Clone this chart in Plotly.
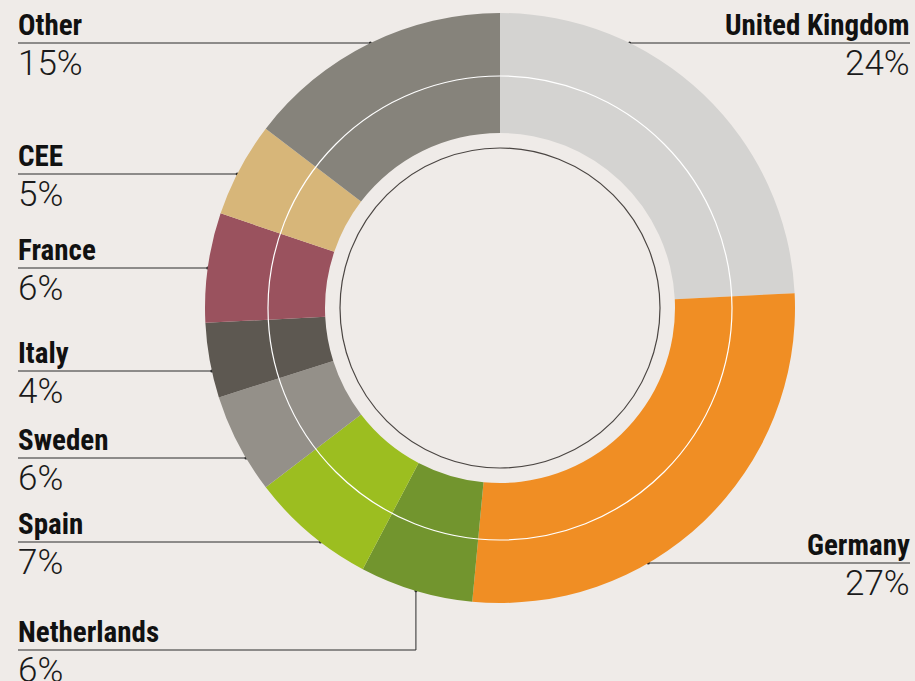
import math
import plotly.graph_objects as go

# Share of total by region (clockwise from 12 o'clock)
regions = ['United Kingdom', 'Germany', 'Netherlands', 'Spain', 'Sweden',
           'Italy', 'France', 'CEE', 'Other']
shares = [24.2, 27.3, 6.2, 6.9, 5.5, 4.1, 6.0, 5.2, 14.6]
share_labels = ['24%', '27%', '6%', '7%', '6%', '4%', '6%', '5%', '15%']
colors = ['#d4d3d1', '#f08e24', '#72952e', '#9cbe20', '#949089',
          '#5d5851', '#9a525e', '#d7b679', '#86837b']

W, H = 915, 681
BG = '#efebe8'
CX, CY = 500, 308          # donut centre in px
R_OUT, R_IN = 295, 175
R_WHITE, R_DARK = 232, 160

# label placement: side and leader line y (px)
label_side = {'United Kingdom': 'right', 'Germany': 'right', 'Netherlands': 'left',
              'Spain': 'left', 'Sweden': 'left', 'Italy': 'left', 'France': 'left',
              'CEE': 'left', 'Other': 'left'}
label_y = {'United Kingdom': 43, 'Germany': 563, 'Netherlands': 650, 'Spain': 542,
           'Sweden': 458, 'Italy': 371, 'France': 268, 'CEE': 174, 'Other': 43}

NAME_FONT = dict(family='Liberation Sans Narrow, Roboto Condensed, Roboto', size=29,
                 color='#111111', weight='bold')
PCT_FONT = dict(family='Roboto', size=35, color='#1a1a1a', weight=300)

fig = go.Figure()
fig.add_trace(go.Pie(
    labels=regions, values=shares, sort=False, direction='clockwise', rotation=0,
    hole=R_IN / R_OUT, marker=dict(colors=colors, line=dict(width=0)),
    textinfo='none', hoverinfo='label+percent', showlegend=False,
    domain=dict(x=[(CX - R_OUT) / W, (CX + R_OUT) / W],
                y=[1 - (CY + R_OUT) / H, 1 - (CY - R_OUT) / H]),
))

total = sum(shares)
cum = 0
annotations = []
for name, val, pct in zip(regions, shares, share_labels):
    mid = (cum + val / 2) / total * 2 * math.pi
    cum += val
    side = label_side[name]
    ly = label_y[name]
    if name == 'Netherlands':
        # elbow leader line up to the middle of the slice
        ex = CX + R_OUT * math.sin(mid)
        ey = CY - R_OUT * math.cos(mid)
        xs, ys = [18, ex, ex], [ly, ly, ey]
    else:
        dx = math.sqrt(max(R_OUT ** 2 - (ly - CY) ** 2, 0))
        ex = CX - dx if side == 'left' else CX + dx
        ey = ly
        xs, ys = ([18, ex] if side == 'left' else [910, ex]), [ly, ly]
    fig.add_trace(go.Scatter(x=xs, y=ys, mode='lines', line=dict(color='#2b2b2b', width=1),
                             hoverinfo='skip', showlegend=False))
    fig.add_trace(go.Scatter(x=[ex], y=[ey], mode='markers',
                             marker=dict(color='#2b2b2b', size=3), hoverinfo='skip',
                             showlegend=False))
    tx = 16 if side == 'left' else 912
    anchor = 'left' if side == 'left' else 'right'
    annotations.append(dict(x=tx, y=ly + 1, text=name, xanchor=anchor, yanchor='bottom',
                            showarrow=False, font=NAME_FONT))
    annotations.append(dict(x=tx, y=ly - 2, text=pct, xanchor=anchor, yanchor='top',
                            showarrow=False, font=PCT_FONT))

shapes = [
    dict(type='circle', xref='x', yref='y', x0=CX - R_WHITE, x1=CX + R_WHITE,
         y0=CY - R_WHITE, y1=CY + R_WHITE, line=dict(color='white', width=1.2)),
    dict(type='circle', xref='x', yref='y', x0=CX - R_DARK, x1=CX + R_DARK,
         y0=CY - R_DARK, y1=CY + R_DARK, line=dict(color='#4a4542', width=1.2)),
]

fig.update_layout(
    width=W, height=H, margin=dict(l=0, r=0, t=0, b=0),
    paper_bgcolor=BG, plot_bgcolor='rgba(0,0,0,0)',
    xaxis=dict(range=[0, W], visible=False, fixedrange=True),
    yaxis=dict(range=[H, 0], visible=False, fixedrange=True),
    annotations=annotations, shapes=shapes,
)

fig.write_html('out.html', config={'displayModeBar': False},
               post_script="document.body.style.margin='0';"
                           "document.body.style.background='" + BG + "';")
